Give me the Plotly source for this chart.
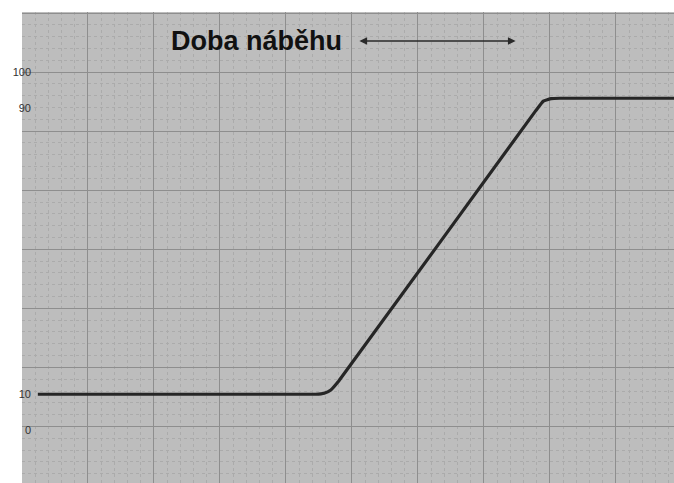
import plotly.graph_objects as go

# Time axis (grid units) and signal level (%)
time = [0.24, 4.45, 4.58, 4.68, 4.80, 7.78, 7.90, 8.02, 8.15, 9.88]
level = [10, 10, 10.3, 11.2, 13.7, 89.1, 91.9, 92.6, 92.7, 92.7]

tick_vals = [100, 90, 10, 0]
tick_text = ["100", "90", "10", "0"]

title_text = "Doba náběhu"
arrow_start = 5.09
arrow_end = 7.48
arrow_level = 108.7
title_x = 3.55

x_range = [0, 9.88]
y_range = [-14.8, 116.8]

fig = go.Figure()
fig.add_trace(go.Scatter(
    x=time, y=level, mode="lines",
    line=dict(color="#262626", width=3.2, shape="spline", smoothing=0.3),
    hoverinfo="skip", showlegend=False,
))
# invisible trace on second y axis so tick labels render
fig.add_trace(go.Scatter(x=[None], y=[None], yaxis="y2", showlegend=False, hoverinfo="skip"))

fig.add_annotation(
    x=title_x, y=arrow_level, xref="x", yref="y", text="<b>" + title_text + "</b>",
    showarrow=False, font=dict(family="Liberation Sans, Arial", size=27, color="#111111"),
)
fig.add_annotation(
    x=arrow_end, y=arrow_level, ax=arrow_start, ay=arrow_level,
    xref="x", yref="y", axref="x", ayref="y", text="",
    showarrow=True, arrowhead=2, arrowside="end+start", arrowsize=1.1,
    arrowwidth=1.4, arrowcolor="#2a2a2a",
)

fig.update_layout(
    width=674, height=483,
    margin=dict(l=22, r=0, t=12, b=0),
    font=dict(family="Liberation Sans, Arial", color="#333333"),
    paper_bgcolor="white", plot_bgcolor="#bdbdbd",
    xaxis=dict(range=x_range, tick0=0, dtick=1, showticklabels=False, ticks="",
               showgrid=True, gridcolor="#8e8e8e", gridwidth=1, zeroline=False,
               minor=dict(dtick=0.2, showgrid=True, gridcolor="#ababab", griddash="dot", gridwidth=1)),
    yaxis=dict(range=y_range, tick0=100, dtick=16.5, showticklabels=False, ticks="",
               showgrid=True, gridcolor="#8e8e8e", gridwidth=1, zeroline=False,
               minor=dict(dtick=3.3, tick0=100, showgrid=True, gridcolor="#ababab", griddash="dot", gridwidth=1)),
    yaxis2=dict(range=y_range, overlaying="y", side="left", tickvals=tick_vals, ticktext=tick_text,
                showgrid=False, zeroline=False, ticks="", ticklabelstandoff=-10,
                tickfont=dict(family="Liberation Sans, Arial", size=11, color="#333333")),
)

fig.write_html("out.html", config={"displayModeBar": False},
               post_script="document.body.style.margin='0';document.body.style.overflow='hidden';")
